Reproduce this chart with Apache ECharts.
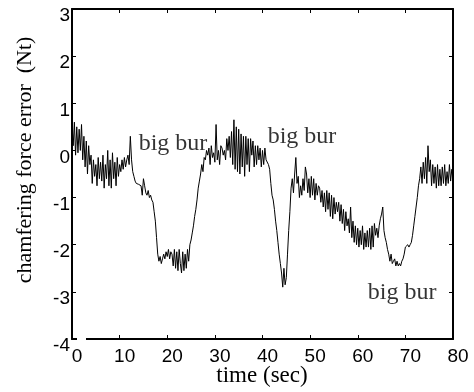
<!DOCTYPE html>
<html>
<head>
<meta charset="utf-8">
<script src="https://cdn.jsdelivr.net/npm/echarts@6/dist/echarts.min.js"></script>
<style>
  html, body { margin: 0; padding: 0; background: #fff; }
  #chart { width: 474px; height: 392px; }
</style>
</head>
<body>
<div id="chart"></div>
<script>
// Sampling interval of the force record (seconds)
const STEP = 0.25;

// Chamfering force error (Nt), one row per second, four samples each
const forceError = [
  0.55, 0.1, 0.6, -0.1,
  0.5, -0.05, 0.45, 0.0,
  0.55, -0.2, 0.3, -0.35,
  0.2, -0.5, 0.1, -0.3,
  -0.1, -0.7, -0.2, -0.55,
  -0.3, -0.75, -0.15, -0.6,
  -0.25, -0.65, -0.1, -0.8,
  -0.3, -0.6, 0.0, -0.75,
  -0.2, -0.8, -0.05, -0.6,
  -0.25, -0.75, -0.15, -0.55,
  -0.3, -0.45, -0.2, -0.4,
  -0.15, -0.35, -0.2, -0.1,
  -0.3, 0.3, -0.2, -0.45,
  -0.55, -0.65, -0.7, -0.7,
  -0.72, -0.7, -0.75, -0.95,
  -0.6, -0.75, -0.9, -0.95,
  -0.85, -1.0, -0.95, -1.05,
  -1.1, -1.3, -1.5, -1.85,
  -2.2, -2.35, -2.25, -2.4,
  -2.3, -2.2, -2.3, -2.15,
  -2.25, -2.1, -2.3, -2.15,
  -2.2, -2.45, -2.1, -2.5,
  -2.15, -2.55, -2.1, -2.4,
  -2.6, -2.15, -2.55, -2.2,
  -2.5, -2.1, -2.35, -2.0,
  -1.9, -1.75, -1.6, -1.4,
  -1.25, -1.05, -0.8, -0.65,
  -0.5, -0.3, -0.45, -0.15,
  -0.2, 0.0, -0.1, 0.05,
  -0.3, 0.1, -0.15, -0.05,
  -0.25, 0.55, -0.2, 0.0,
  -0.3, 0.1, 0.05, -0.1,
  0.0, -0.2, 0.25, 0.0,
  0.3, -0.15, 0.4, -0.3,
  0.65, -0.4, 0.5, -0.45,
  0.45, -0.5, 0.35, -0.35,
  0.3, -0.55, 0.3, -0.3,
  0.25, -0.45, 0.25, -0.1,
  0.2, -0.35, 0.1, -0.3,
  0.1, -0.2, 0.05, -0.35,
  0.0, -0.3, 0.05, -0.2,
  -0.2, -0.3, -0.4, -0.7,
  -0.95, -1.05, -1.25, -1.5,
  -1.7, -1.95, -2.2, -2.4,
  -2.6, -2.9, -2.5, -2.85,
  -2.7, -2.2, -1.7, -1.3,
  -0.8, -0.6, -0.9, -0.5,
  -0.15, -0.7, -0.55, -1.0,
  -0.75, -0.95, -0.6, -0.85,
  -0.35, -0.5, -0.9, -0.6,
  -1.0, -0.55, -0.95, -0.6,
  -1.05, -0.7, -0.95, -0.75,
  -0.8, -1.1, -0.85, -1.2,
  -0.9, -1.3, -0.85, -1.25,
  -0.9, -1.4, -0.95, -1.45,
  -1.0, -1.35, -1.1, -1.3,
  -1.1, -1.5, -1.15, -1.55,
  -1.25, -1.7, -1.3, -1.6,
  -1.45, -1.75, -1.2, -1.85,
  -1.5, -1.95, -1.6, -2.0,
  -1.65, -2.05, -1.7, -2.0,
  -1.6, -2.1, -1.75, -2.05,
  -1.7, -2.05, -1.65, -2.1,
  -1.6, -2.05, -1.55, -1.8,
  -1.65, -1.85, -1.6, -1.45,
  -1.35, -1.2, -1.7, -1.85,
  -1.95, -2.1, -2.2, -2.35,
  -2.2, -2.4, -2.35, -2.3,
  -2.45, -2.35, -2.45, -2.4,
  -2.45, -2.35, -2.3, -2.2,
  -2.05, -2.05, -2.0, -2.05,
  -2.0, -1.95, -1.8, -1.6,
  -1.4, -1.2, -1.0, -0.75,
  -0.6, -0.35, -0.7, -0.25,
  -0.6, -0.15, -0.7, 0.1,
  -0.45, -0.2, -0.75, -0.3,
  -0.7, -0.35, -0.8, -0.3,
  -0.75, -0.4, -0.75, -0.35,
  -0.7, -0.3, -0.75, -0.45,
  -0.7, -0.3, -0.65, -0.4,
  -0.6
];

// Annotated burr events: [time (sec), force error (Nt)] of each label centre
const burLabels = ['big bur', 'big bur', 'big bur'];
const burTimes = [21.2, 48.3, 69.3];
const burLevels = [0.15, 0.3, -3.02];

// Axis titles
const xTitle = 'time (sec)';
const yTitle = 'chamfering force error  (Nt)';

// Axis ranges and tick spacing
const xTicks = { min: 0, max: 80, interval: 10 };
const yTicks = { min: -4, max: 3, interval: 1 };

const seriesData = forceError.map((v, i) => [i * STEP, v]);
const burData = burTimes.map((t, i) => ({ value: [t, burLevels[i]], name: burLabels[i] }));

const SERIF = '"Liberation Serif", "Times New Roman", serif';
const SANS = '"Liberation Sans", Arial, sans-serif';

const frameLine = { show: true, onZero: false, lineStyle: { color: '#000', width: 2 } };
const innerTick = { show: true, inside: true, length: 4, lineStyle: { color: '#000', width: 1 } };

const chart = echarts.init(document.getElementById('chart'), null, { renderer: 'canvas' });
chart.setOption({
  animation: false,
  backgroundColor: '#fff',
  grid: { left: 72, right: 21, top: 9, bottom: 53, containLabel: false, outerBoundsMode: 'none' },
  xAxis: [
    {
      type: 'value', position: 'bottom',
      min: xTicks.min, max: xTicks.max, interval: xTicks.interval,
      axisLine: frameLine, axisTick: innerTick, splitLine: { show: false },
      axisLabel: { color: '#000', fontFamily: SANS, fontSize: 19, margin: 8, padding: [0, 0, 0, 10] }
    },
    {
      type: 'value', position: 'top',
      min: xTicks.min, max: xTicks.max, interval: xTicks.interval,
      axisLine: frameLine, axisTick: innerTick, splitLine: { show: false },
      axisLabel: { show: false }
    }
  ],
  yAxis: [
    {
      type: 'value', position: 'left',
      min: yTicks.min, max: yTicks.max, interval: yTicks.interval,
      axisLine: frameLine, axisTick: innerTick, splitLine: { show: false },
      axisLabel: {
        color: '#000', fontFamily: SANS, fontSize: 19, margin: 2,
        verticalAlign: 'top', lineHeight: 14
      }
    },
    {
      type: 'value', position: 'right',
      min: yTicks.min, max: yTicks.max, interval: yTicks.interval,
      axisLine: frameLine, axisTick: innerTick, splitLine: { show: false },
      axisLabel: { show: false }
    }
  ],
  graphic: [
    {
      type: 'text', x: 25, y: 160, rotation: Math.PI / 2,
      style: {
        text: yTitle, fill: '#000',
        font: '22px ' + SERIF, textAlign: 'center', textVerticalAlign: 'middle'
      }
    },
    {
      type: 'text', x: 262, y: 376,
      style: {
        text: xTitle, fill: '#000',
        font: '23px ' + SERIF, textAlign: 'center', textVerticalAlign: 'middle'
      }
    },
    {
      type: 'rect', z: 100,
      shape: { x: 77, y: 337, width: 9, height: 4 },
      style: { fill: '#fff' }
    }
  ],
  series: [
    {
      type: 'line', data: seriesData, xAxisIndex: 0, yAxisIndex: 0,
      showSymbol: false, symbol: 'none',
      lineStyle: { color: '#000', width: 1 }
    },
    {
      type: 'scatter', data: burData, xAxisIndex: 0, yAxisIndex: 0,
      symbolSize: 0, itemStyle: { color: 'transparent' },
      label: {
        show: true, position: 'inside', formatter: p => p.name,
        color: '#000', fontFamily: SERIF, fontSize: 24
      }
    }
  ]
});
</script>
</body>
</html>
